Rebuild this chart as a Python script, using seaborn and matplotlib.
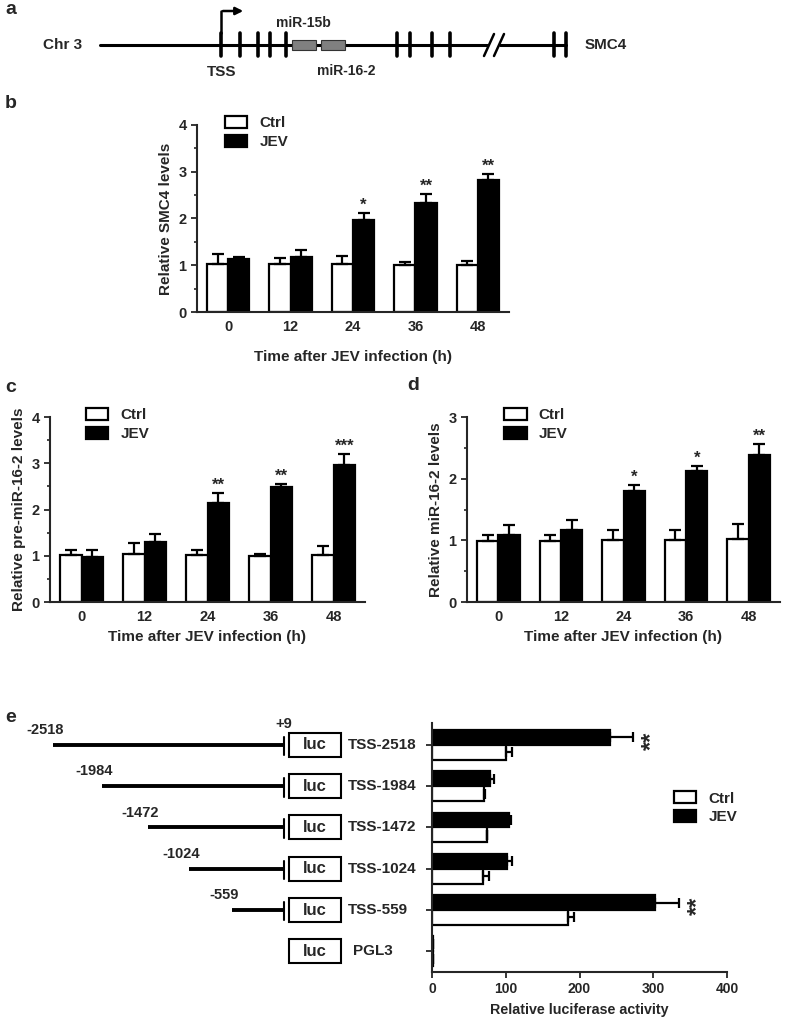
import matplotlib
matplotlib.use("Agg")
import matplotlib.pyplot as plt
import seaborn as sns
import numpy as np
import pandas as pd
from matplotlib.patches import Patch, Rectangle

# =========================
# DATA
# =========================
times = ["0", "12", "24", "36", "48"]
groups = ["Ctrl", "JEV"]

# b: SMC4
smc4_ctrl = [1.02, 1.02, 1.02, 1.01, 1.00]
smc4_ctrl_err = [0.21, 0.14, 0.18, 0.06, 0.10]
smc4_jev = [1.13, 1.18, 1.96, 2.34, 2.82]
smc4_jev_err = [0.05, 0.14, 0.16, 0.18, 0.13]
smc4_stars = ["", "", "*", "**", "**"]

# c: pre-miR-16-2
pre_ctrl = [1.02, 1.04, 1.01, 1.00, 1.02]
pre_ctrl_err = [0.11, 0.23, 0.12, 0.04, 0.19]
pre_jev = [0.97, 1.29, 2.15, 2.49, 2.96]
pre_jev_err = [0.16, 0.18, 0.21, 0.07, 0.25]
pre_stars = ["", "", "**", "**", "***"]

# d: miR-16-2
mir_ctrl = [0.99, 0.99, 1.00, 1.00, 1.02]
mir_ctrl_err = [0.09, 0.09, 0.16, 0.16, 0.25]
mir_jev = [1.09, 1.16, 1.80, 2.13, 2.38]
mir_jev_err = [0.16, 0.17, 0.10, 0.08, 0.18]
mir_stars = ["", "", "*", "*", "**"]

# e: luciferase reporter
constructs = ["TSS-2518", "TSS-1984", "TSS-1472", "TSS-1024", "TSS-559", "PGL3"]
construct_start = [-2518, -1984, -1472, -1024, -559]
tss_end = 9
luc_ctrl = [100, 70, 75, 69, 184, 1]
luc_ctrl_err = [9, 2, 0, 8, 9, 0]
luc_jev = [242, 79, 104, 102, 303, 1]
luc_jev_err = [30, 5, 3, 6, 32, 0]
luc_stars = ["**", "", "", "", "**", ""]

# a: gene schematic (horizontal positions along the drawing)
exons_left = [221, 240, 258, 270, 286]
mirnas = [("miR-15b", 292, 316), ("miR-16-2", 321, 345)]
exons_right = [397, 410, 432, 450]
exons_end = [554, 566]

sns.set_theme(style="ticks")
plt.rcParams["font.family"] = ["Liberation Sans", "DejaVu Sans"]
plt.rcParams["font.weight"] = "bold"
plt.rcParams["axes.labelweight"] = "bold"
plt.rcParams["axes.linewidth"] = 1.5

W, H = 787, 1023
fig = plt.figure(figsize=(W / 100, H / 100), dpi=100)


def px_axes(left, top, right, bottom):
    return fig.add_axes([left / W, 1 - bottom / H, (right - left) / W, (bottom - top) / H])


legend_handles = [Patch(facecolor="white", edgecolor="black", linewidth=1.6, label="Ctrl"),
                  Patch(facecolor="black", edgecolor="black", linewidth=1.6, label="JEV")]


def add_legend(ax, x, y):
    ax.legend(handles=legend_handles, loc="upper left", bbox_to_anchor=(x, y),
              frameon=False, handlelength=1.45, handleheight=0.8, fontsize=11,
              labelspacing=0.3, handletextpad=0.8, borderaxespad=0)


def time_bars(ax, ctrl, ctrl_err, jev, jev_err, stars, ymax, ylabel, leg_x, xpad):
    df = pd.DataFrame({"time": times * 2,
                       "group": ["Ctrl"] * len(times) + ["JEV"] * len(times),
                       "value": ctrl + jev})
    sns.barplot(data=df, x="time", y="value", hue="group", hue_order=groups,
                palette={"Ctrl": "white", "JEV": "black"}, edgecolor="black",
                linewidth=1.6, width=0.68, errorbar=None, legend=False, ax=ax)
    for cont, err in zip(ax.containers, [ctrl_err, jev_err]):
        xs = [p.get_x() + p.get_width() / 2 for p in cont]
        hs = [p.get_height() for p in cont]
        ax.errorbar(xs, hs, yerr=[np.zeros(len(err)), err], fmt="none",
                    ecolor="black", elinewidth=1.6, capsize=4, capthick=1.6)
    for p, e, s in zip(ax.containers[1], jev_err, stars):
        if s:
            ax.text(p.get_x() + p.get_width() / 2, p.get_height() + e, s,
                    ha="center", va="bottom", fontsize=12, fontweight="bold")
    ax.set_xlim(-0.5, len(times) - 0.5)
    ax.set_ylim(0, ymax)
    ax.set_yticks(range(ymax + 1))
    ax.set_yticks(np.arange(0.5, ymax, 1), minor=True)
    ax.tick_params(axis="y", which="major", length=4, width=1.3, labelsize=10.5)
    ax.tick_params(axis="y", which="minor", length=2.5, width=1.2)
    ax.tick_params(axis="x", length=0, labelsize=10.5, pad=6)
    ax.set_xlabel("Time after JEV infection (h)", fontsize=11, labelpad=xpad)
    ax.set_ylabel(ylabel, fontsize=11)
    sns.despine(ax=ax)
    add_legend(ax, leg_x, 1.08)


# =========================
# PANEL A - gene schematic
# =========================
ax_a = px_axes(0, 0, W, 110)
ax_a.set_xlim(0, W)
ax_a.set_ylim(110, 0)
ax_a.axis("off")
line_y = 45
ax_a.plot([100, 487], [line_y, line_y], color="black", lw=2.2)
ax_a.plot([500, 566], [line_y, line_y], color="black", lw=2.2)
for x0 in [484, 494]:
    ax_a.plot([x0, x0 + 10], [56, 34], color="black", lw=1.8)
for x in exons_left + exons_right + exons_end:
    ax_a.plot([x, x], [33, 56], color="black", lw=2.6)
for name, x0, x1 in mirnas:
    ax_a.add_patch(Rectangle((x0, 40), x1 - x0, 10, facecolor="#808080",
                             edgecolor="#333333", lw=0.8, zorder=3))
ax_a.plot([221, 221], [33, 11], color="black", lw=1.8)
ax_a.annotate("", xy=(246, 11), xytext=(220.2, 11),
              arrowprops=dict(arrowstyle="-|>", color="black", lw=1.8, mutation_scale=11))
ax_a.text(63, line_y, "Chr 3", ha="center", va="center", fontsize=11)
ax_a.text(585, line_y, "SMC4", ha="left", va="center", fontsize=11)
ax_a.text(222, 72, "TSS", ha="center", va="center", fontsize=11)
ax_a.text(303, 23, "miR-15b", ha="center", va="center", fontsize=10)
ax_a.text(346, 71, "miR-16-2", ha="center", va="center", fontsize=10)

# =========================
# PANELS B, C, D
# =========================
ax_b = px_axes(197, 125, 509, 312)
time_bars(ax_b, smc4_ctrl, smc4_ctrl_err, smc4_jev, smc4_jev_err, smc4_stars, 4,
          "Relative SMC4 levels", 0.07, 11)

ax_c = px_axes(50, 417, 365, 602)
time_bars(ax_c, pre_ctrl, pre_ctrl_err, pre_jev, pre_jev_err, pre_stars, 4,
          "Relative pre-miR-16-2 levels", 0.095, 4)

ax_d = px_axes(467, 417, 780, 602)
time_bars(ax_d, mir_ctrl, mir_ctrl_err, mir_jev, mir_jev_err, mir_stars, 3,
          "Relative miR-16-2 levels", 0.1, 4)

# =========================
# PANEL E - luciferase bars
# =========================
ax_e = px_axes(432, 723, 727, 972)
df_e = pd.DataFrame({"construct": constructs * 2,
                     "group": ["JEV"] * len(constructs) + ["Ctrl"] * len(constructs),
                     "value": luc_jev + luc_ctrl})
sns.barplot(data=df_e, y="construct", x="value", hue="group", hue_order=["JEV", "Ctrl"],
            order=constructs, orient="h", palette={"Ctrl": "white", "JEV": "black"},
            edgecolor="black", linewidth=1.6, width=0.72, errorbar=None, legend=False, ax=ax_e)
for cont, err in zip(ax_e.containers, [luc_jev_err, luc_ctrl_err]):
    ys = [p.get_y() + p.get_height() / 2 for p in cont]
    ws = [p.get_width() for p in cont]
    ax_e.errorbar(ws, ys, xerr=[np.zeros(len(err)), err], fmt="none",
                  ecolor="black", elinewidth=1.6, capsize=3.5, capthick=1.6)
for p, e, s in zip(ax_e.containers[0], luc_jev_err, luc_stars):
    if s:
        ax_e.text(p.get_width() + e + 10, p.get_y() + p.get_height() / 2 + 0.08, s,
                  rotation=90, ha="left", va="center", fontsize=17, fontweight="bold")
ax_e.set_xlim(0, 400)
ax_e.set_ylim(len(constructs) - 0.5, -0.53)
ax_e.set_xticks([0, 100, 200, 300, 400])
ax_e.set_yticks(range(len(constructs)))
ax_e.set_yticklabels([])
ax_e.set_ylabel("")
ax_e.tick_params(axis="y", length=4, width=1.3)
ax_e.tick_params(axis="x", length=4, width=1.3, labelsize=10)
ax_e.set_xlabel("Relative luciferase activity", fontsize=10.3, labelpad=5)
sns.despine(ax=ax_e)
add_legend(ax_e, 0.8, 0.75)

# construct diagram, x in bp relative to TSS
ax_s = px_axes(0, 723, 430, 972)
bp_per_px = 1 / 0.0915
ax_s.set_xlim(tss_end - 284 * bp_per_px, tss_end + 146 * bp_per_px)
ax_s.set_ylim(len(constructs) - 0.5, -0.53)
ax_s.axis("off")
box_x0, box_w = tss_end + 5 * bp_per_px, 52 * bp_per_px
for i, name in enumerate(constructs):
    ax_s.add_patch(Rectangle((box_x0, i - 0.29), box_w, 0.58, facecolor="white",
                             edgecolor="black", lw=1.5))
    ax_s.text(box_x0 + box_w / 2, i, "luc", ha="center", va="center", fontsize=12)
    lab_x = box_x0 + box_w + (7 if i < len(construct_start) else 12) * bp_per_px
    ax_s.text(lab_x, i, name, ha="left", va="center", fontsize=11)
for i, start in enumerate(construct_start):
    ax_s.plot([start, tss_end], [i, i], color="black", lw=2.8, solid_capstyle="butt")
    ax_s.plot([tss_end, tss_end], [i - 0.2, i + 0.25], color="black", lw=1.5)
    ax_s.text(start - 8 * bp_per_px, i - 0.36, str(start), ha="center", va="center", fontsize=10.5)
ax_s.text(tss_end, -0.5, "+9", ha="center", va="center", fontsize=10.5)

# panel letters
for lab, x, y in [("a", 5, 10), ("b", 5, 104), ("c", 5, 388), ("d", 407, 385), ("e", 5, 718)]:
    fig.text(x / W, 1 - y / H, lab, ha="left", va="center", fontsize=14, fontweight="bold")

fig.savefig("out.png", dpi=100)
